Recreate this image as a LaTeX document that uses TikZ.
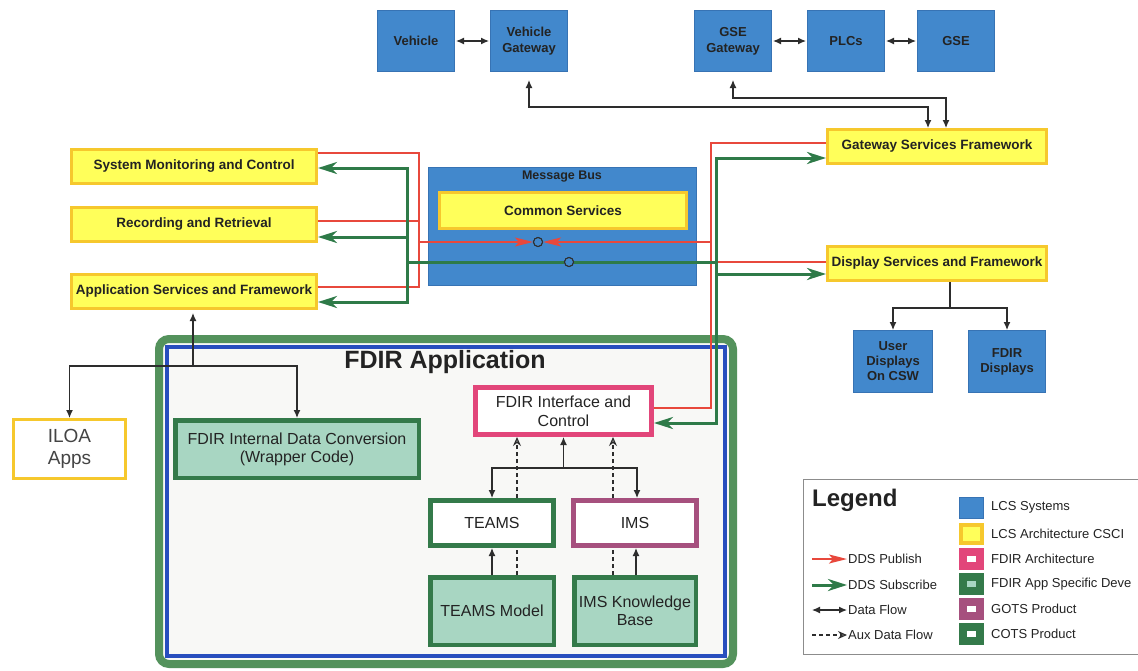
\documentclass[tikz,border=0pt]{standalone}
\usepackage{fontspec}
\setmainfont{Liberation Sans}
\usetikzlibrary{arrows.meta,calc}

\definecolor{lcsF}{RGB}{66,136,204}
\definecolor{lcsB}{RGB}{55,115,180}
\definecolor{yelF}{RGB}{255,255,90}
\definecolor{yelB}{RGB}{246,200,45}
\definecolor{tealF}{RGB}{168,214,194}
\definecolor{dgreen}{RGB}{52,122,74}
\definecolor{pinkB}{RGB}{226,70,122}
\definecolor{mauveB}{RGB}{166,80,126}
\definecolor{redL}{RGB}{232,72,60}
\definecolor{greenL}{RGB}{46,122,72}
\definecolor{outerG}{RGB}{84,146,92}
\definecolor{innerB}{RGB}{40,78,190}
\definecolor{txt}{RGB}{35,35,35}
\definecolor{lightbg}{RGB}{248,248,246}
\definecolor{lineK}{RGB}{45,45,45}

\tikzset{
  lcs/.style={draw=lcsB, fill=lcsF, line width=1pt, text=txt, align=center, inner sep=1pt,
    font=\bfseries\fontsize{13}{16}\selectfont, minimum width=77pt, minimum height=61pt},
  csci/.style={draw=yelB, fill=yelF, line width=3pt, text=txt, align=center, inner sep=1pt,
    font=\bfseries\fontsize{13.5}{15}\selectfont, minimum height=34pt},
  appdev/.style={draw=dgreen, fill=tealF, line width=4.5pt, text=txt, align=center, inner sep=1pt,
    font=\fontsize{16}{18}\selectfont},
  cots/.style={draw=dgreen, fill=white, line width=5pt, text=txt, align=center, inner sep=1pt,
    font=\fontsize{16}{18}\selectfont, minimum width=123pt, minimum height=45pt},
  gots/.style={cots, draw=mauveB},
  farch/.style={draw=pinkB, fill=white, line width=5pt, text=txt, align=center, inner sep=1pt,
    font=\fontsize{16}{19}\selectfont},
  pub/.style={draw=redL, line width=2pt},
  pubarrow/.style={pub, -{Stealth[length=18pt,width=9pt,inset=4pt]}},
  sub/.style={draw=greenL, line width=3pt, -{Stealth[length=19pt,width=12pt,inset=6pt]}},
  subline/.style={draw=greenL, line width=3pt},
  flow/.style={draw=lineK, line width=1.2pt, -{Latex[length=8pt,width=7pt]}},
  flowtwo/.style={draw=lineK, line width=1.2pt, {Latex[length=8pt,width=7pt]}-{Latex[length=8pt,width=7pt]}},
  aux/.style={draw=lineK, line width=1.2pt, dash pattern=on 4pt off 3pt, -{Stealth[open,length=9pt,width=8pt,inset=3pt]}},
  auxline/.style={draw=lineK, line width=1.2pt, dash pattern=on 4pt off 3pt},
  buscirc/.style={circle, draw=lineK, fill=lcsF, line width=1pt, minimum size=9pt, inner sep=0pt},
  lgtxt/.style={anchor=west, text=txt, font=\fontsize{13}{15}\selectfont, inner sep=1pt},
  swatch/.style={inner sep=0pt},
}

\begin{document}
\begin{tikzpicture}[x=1pt,y=-1pt]
\useasboundingbox (0,0) rectangle (1138,670);
\clip (0,0) rectangle (1138,670);
\fill[white] (0,0) rectangle (1138,670);

% FDIR application container
\draw[line width=8pt, draw=outerG, fill=lightbg, rounded corners=10pt] (159,339) rectangle (733,664);
\draw[line width=4pt, draw=innerB] (167,347) rectangle (725,656);
\node[font=\bfseries\fontsize{25}{28}\selectfont, text=txt] (ftitle) at (445,362) {FDIR Application};

% Top LCS systems
\node[lcs] (V) at (416,41) {Vehicle};
\node[lcs] (VG) at (529,41) {Vehicle\\Gateway};
\node[lcs] (GSEG) at (733,41) {GSE\\Gateway};
\node[lcs] (PLC) at (846,41) {PLCs};
\node[lcs] (GSE) at (956,41) {GSE};

% Left CSCIs
\node[csci, minimum width=245pt] (SMC) at (194,166.5) {System Monitoring and Control};
\node[csci, minimum width=245pt] (RR) at (194,224) {Recording and Retrieval};
\node[csci, minimum width=245pt] (ASF) at (194,291.5) {Application Services and Framework};

% Right CSCIs
\node[csci, minimum width=219pt] (GSF) at (937,146.5) {Gateway Services Framework};
\node[csci, minimum width=219pt] (DSF) at (937,263.5) {Display Services and Framework};

% Message bus
\node[draw=lcsB, fill=lcsF, line width=1pt, minimum width=268pt, minimum height=118pt] (bus) at (562.5,226.5) {};
\node[font=\bfseries\fontsize{12.5}{14}\selectfont, text=txt] (busT) at (562,177) {Message Bus};
\node[csci, minimum width=247pt, minimum height=36pt] (CS) at (563,210.5) {Common Services};

% Displays
\node[lcs, minimum width=79pt, minimum height=62pt, font=\bfseries\fontsize{13}{15}\selectfont] (UD) at (893,361.5) {User\\Displays\\On CSW};
\node[lcs, minimum width=77pt, minimum height=62pt, font=\bfseries\fontsize{13}{15}\selectfont] (FD) at (1007,361.5) {FDIR\\Displays};

% ILOA
\node[draw=yelB, fill=white, line width=3pt, minimum width=112pt, minimum height=59pt, align=center,
  text=txt!85, font=\fontsize{19}{22}\selectfont] (ILOA) at (69.5,449) {ILOA\\Apps};

% FDIR internals
\node[appdev, minimum width=243.5pt, minimum height=57.5pt] (FIDC) at (297,449) {FDIR Internal Data Conversion\\(Wrapper Code)};
\node[farch, minimum width=176pt, minimum height=47pt] (FIC) at (563.5,411) {FDIR Interface and\\Control};
\node[cots] (TEAMS) at (492,523) {TEAMS};
\node[gots] (IMS) at (635,523) {IMS};
\node[appdev, minimum width=123.5pt, minimum height=67.5pt] (TM) at (492,611) {TEAMS Model};
\node[appdev, minimum width=121.5pt, minimum height=67.5pt] (IKB) at (635,611) {IMS Knowledge\\Base};

% Top data flows
\draw[flowtwo, shorten <=1pt, shorten >=1pt] (V) -- (VG);
\draw[flowtwo, shorten <=1pt, shorten >=1pt] (GSEG) -- (PLC);
\draw[flowtwo, shorten <=1pt, shorten >=1pt] (PLC) -- (GSE);
\draw[flowtwo, shorten <=8pt] (VG.south) -- ++(0,35) -| ([xshift=-9pt]GSF.north);
\draw[flowtwo, shorten <=8pt] (GSEG.south) -- ++(0,26) -| ([xshift=9pt]GSF.north);

% DSF to displays
\coordinate (dsp) at (950,308);
\draw[draw=lineK, line width=1.2pt] (DSF.south -| dsp) -- (dsp);
\draw[flow] (dsp) -| (UD.north);
\draw[flow] (dsp) -| (FD.north);

% ASF to ILOA / wrapper
\coordinate (asp) at (193,366);
\draw[flow, shorten >=3pt] (asp) -- (asp |- ASF.south);
\draw[flow] (asp) -| (ILOA.north);
\draw[flow] (asp) -| (FIDC.north);

% FDIR internal flows
\coordinate (fsp) at (563.5,468);
\draw[flow] (fsp) -- (fsp |- FIC.south);
\draw[flow] (fsp) -| (TEAMS.north);
\draw[flow] (fsp) -| ([xshift=2pt]IMS.north);
\coordinate (ta) at ($(TEAMS.north)+(25,0)$);
\coordinate (ia) at ($(IMS.north)+(-22,0)$);
\draw[aux] (ta) -- (ta |- FIC.south);
\draw[aux] (ia) -- (ia |- FIC.south);
\coordinate (tb) at ($(TM.north)+(25,0)$);
\coordinate (ib) at ($(IKB.north)+(-22,0)$);
\draw[auxline] (tb) -- (tb |- TEAMS.south);
\draw[auxline] (ib) -- (ib |- IMS.south);
\draw[flow] (TM.north) -- (TEAMS.south);
\draw[flow] ([xshift=1pt]IKB.north) -- ([xshift=1pt]IMS.south);

% DDS publish (red) and subscribe (green)
\coordinate (rj) at (419,242);
\coordinate (rR) at (711,242);
\coordinate (gj) at (407,262);
\coordinate (gR) at (716,262);
\node[buscirc] (cR) at (538,242) {};
\node[buscirc] (cG) at (569,262) {};

\draw[pub] ([yshift=13.5pt]SMC.east) -| (rj);
\draw[pub] ([yshift=3pt]RR.east) -| (rj);
\draw[pub] ([yshift=4.5pt]ASF.east) -| (rj);
\draw[pub] ([yshift=3pt]FIC.east) -| (rR);
\draw[pub] (rR) |- ([yshift=3.5pt]GSF.west);
\draw[pub] ([yshift=1.5pt]DSF.west) -| (rR);

\draw[subline] (gj) -- (cG) -- (gR);
\draw[sub] (gj) |- ([yshift=-1.5pt]SMC.east);
\draw[sub] (gj) |- ([yshift=-13pt]RR.east);
\draw[sub] (gj) |- ([yshift=-10.5pt]ASF.east);
\draw[sub] (gR) |- ([yshift=-11.5pt]GSF.west);
\draw[sub] (gR) |- ([yshift=-10.5pt]DSF.west);
\draw[sub] (gR) |- ([yshift=-12pt]FIC.east);

\draw[pubarrow] (rj) -- (cR.west);
\draw[pubarrow] (rR) -- (cR.east);
\node[buscirc] at (cR) {};
\node[buscirc] at (cG) {};

% Legend
\node[draw=black!45, line width=0.8pt, anchor=north west, minimum width=349pt, minimum height=175pt, inner sep=0pt] (legbox) at (803,479) {};
\node[anchor=west, font=\bfseries\fontsize{24}{26}\selectfont, text=txt, inner sep=1pt] (legT) at (811,500) {Legend};

\node[swatch, draw=lcsB, fill=lcsF, line width=1pt, minimum width=24pt, minimum height=21pt] (s1) at (971.5,507.5) {};
\node[swatch, draw=yelB, fill=yelF, line width=4pt, minimum width=21pt, minimum height=18pt] (s2) at (971.5,534) {};
\node[swatch, draw=pinkB, fill=white, line width=8pt, minimum width=17pt, minimum height=14pt] (s3) at (971.5,558.5) {};
\node[swatch, draw=dgreen, fill=tealF, line width=8pt, minimum width=17pt, minimum height=14pt] (s4) at (971.5,584) {};
\node[swatch, draw=mauveB, fill=white, line width=8pt, minimum width=17pt, minimum height=14pt] (s5) at (971.5,608.5) {};
\node[swatch, draw=dgreen, fill=white, line width=8pt, minimum width=17pt, minimum height=14pt] (s6) at (971.5,633.5) {};

\node[lgtxt] (t1) at (990,507.5) {LCS Systems};
\node[lgtxt] (t2) at (990,534) {LCS Architecture CSCI};
\node[lgtxt] (t3) at (990,558.5) {FDIR Architecture};
\node[lgtxt] (t4) at (990,584) {FDIR App Specific Deve};
\node[lgtxt] (t5) at (990,608.5) {GOTS Product};
\node[lgtxt] (t6) at (990,633.5) {COTS Product};

\node[lgtxt] (l1) at (847,559) {DDS Publish};
\node[lgtxt] (l2) at (847,585) {DDS Subscribe};
\node[lgtxt] (l3) at (847,610) {Data Flow};
\node[lgtxt] (l4) at (847,635) {Aux Data Flow};
\coordinate (a1) at (812,559);
\coordinate (a2) at (812,585);
\coordinate (a3) at (812,610);
\coordinate (a4) at (812,635);
\draw[pubarrow] (a1) -- (l1.west);
\draw[sub] (a2) -- (l2.west);
\draw[flowtwo] (a3) -- (l3.west);
\draw[aux] (a4) -- (l4.west);
\end{tikzpicture}
\end{document}
